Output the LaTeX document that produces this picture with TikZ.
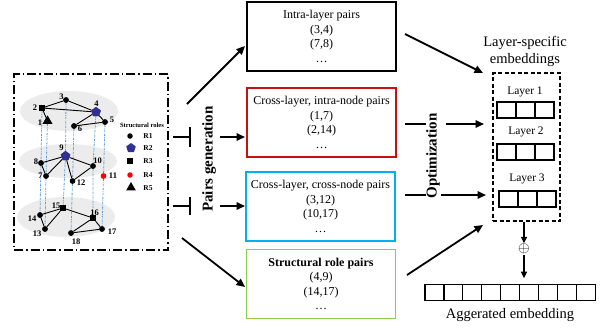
\documentclass[tikz,border=0pt]{standalone}
\usepackage{fontspec}
\setmainfont{Liberation Serif}
\usetikzlibrary{arrows.meta,shapes.geometric}
\definecolor{rbox}{RGB}{200,16,16}
\definecolor{cbox}{RGB}{0,176,240}
\definecolor{gbox}{RGB}{140,204,70}
\definecolor{penta}{RGB}{46,49,146}
\definecolor{vline}{RGB}{91,155,213}
\definecolor{layerfill}{RGB}{236,236,236}
\begin{document}
\begin{tikzpicture}[x=1pt,y=-1pt,
  dotn/.style={circle,fill=black,inner sep=0pt,minimum size=5.5pt},
  reddot/.style={circle,fill=red,inner sep=0pt,minimum size=5.5pt},
  sqn/.style={rectangle,fill=black,inner sep=0pt,minimum size=6pt},
  pentn/.style={regular polygon,regular polygon sides=5,fill=penta,inner sep=0pt,minimum size=10pt},
  trin/.style={regular polygon,regular polygon sides=3,fill=black,inner sep=0pt,minimum size=11pt},
  lbl/.style={font=\fontsize{8.5}{9}\selectfont\bfseries,inner sep=0.5pt},
  lgl/.style={font=\fontsize{7.5}{8}\selectfont\bfseries,inner sep=0.5pt},
  gedge/.style={line width=0.9pt},
  vdot/.style={vline,line width=0.8pt,dash pattern=on 2pt off 1pt on 0.6pt off 1pt},
  arr/.style={line width=1.8pt,-{Triangle[length=8.5pt,width=7.5pt]}},
  arrs/.style={line width=1.5pt,-{Triangle[length=6.5pt,width=6pt]}},
  pairbox/.style={draw,line width=1.3pt,minimum width=149pt,minimum height=69pt,align=center,font=\fontsize{12}{14.5}\selectfont},
  cell/.style={draw,line width=1.2pt,minimum width=19pt,minimum height=16pt,inner sep=0pt},
  bigtxt/.style={font=\fontsize{14.5}{17}\selectfont,align=center,inner sep=0pt},
  rottxt/.style={rotate=90,font=\fontsize{15}{15}\selectfont\bfseries,inner sep=0pt},
]
\useasboundingbox (0,0) rectangle (602,333);

% ---------- left graph box ----------
\node[draw,line width=1.6pt,dash pattern=on 9pt off 3pt on 1.5pt off 3pt,minimum width=154pt,minimum height=176pt,inner sep=0pt] (graphbox) at (91,162) {};

\fill[layerfill] (69,111) ellipse [x radius=49, y radius=20];
\fill[layerfill] (68,161) ellipse [x radius=49, y radius=17];
\fill[layerfill] (66,217) ellipse [x radius=49, y radius=20];

% nodes layer 1
\node[trin] (n1) at (47.5,121) {};
\node[sqn] (n2) at (42,108) {};
\node[dotn] (n3) at (66,100) {};
\node[pentn] (n4) at (96,112) {};
\node[dotn] (n5) at (105,122) {};
\node[dotn] (n6) at (74,126) {};
% layer 2
\node[dotn] (n7) at (46,176) {};
\node[dotn] (n8) at (41,163) {};
\node[pentn] (n9) at (65.5,156) {};
\node[dotn] (n10) at (93,166) {};
\node[reddot] (n11) at (103.5,176) {};
\node[dotn] (n12) at (72.5,181) {};
% layer 3
\node[dotn] (n13) at (45,229) {};
\node[dotn] (n14) at (40,215) {};
\node[sqn] (n15) at (63,208) {};
\node[sqn] (n16) at (93,218) {};
\node[dotn] (n17) at (102,229) {};
\node[dotn] (n18) at (71,233) {};

% vertical dotted lines
\draw[vdot] (n2) -- (n8) -- (n14);
\draw[vdot] (n1) -- (n7) -- (n13);
\draw[vdot] (n3) -- (n9) -- (n15);
\draw[vdot] (n6) -- (n12) -- (n18);
\draw[vdot] (n4) -- (n10) -- (n16);
\draw[vdot] (n5) -- (n11) -- (n17);

% edges
\draw[gedge] (n2) -- (n3) -- (n4) -- (n2) -- (n1);
\draw[gedge] (n4) -- (n5) -- (n6) -- (n4);
\draw[gedge] (n9) -- (n8) -- (n7) -- (n9) -- (n10) -- (n12) -- (n9);
\draw[gedge] (n15) -- (n14) -- (n13) -- (n15) -- (n16) -- (n18) -- (n17) -- (n16);

% redraw nodes on top
\node[trin] at (n1) {};
\node[sqn] at (n2) {};
\node[dotn] at (n3) {};
\node[pentn] at (n4) {};
\node[dotn] at (n5) {};
\node[dotn] at (n6) {};
\node[dotn] at (n7) {};
\node[dotn] at (n8) {};
\node[pentn] at (n9) {};
\node[dotn] at (n10) {};
\node[reddot] at (n11) {};
\node[dotn] at (n12) {};
\node[dotn] at (n13) {};
\node[dotn] at (n14) {};
\node[sqn] at (n15) {};
\node[sqn] at (n16) {};
\node[dotn] at (n17) {};
\node[dotn] at (n18) {};

% node labels
\node[lbl] (t1) at (40,123) {1};
\node[lbl] (t2) at (35,108) {2};
\node[lbl] (t3) at (61.5,97) {3};
\node[lbl] (t4) at (96.5,104) {4};
\node[lbl] (t5) at (112,120) {5};
\node[lbl] (t6) at (80,129) {6};
\node[lbl] (t7) at (40.5,176) {7};
\node[lbl] (t8) at (36,162) {8};
\node[lbl] (t9) at (61.5,148) {9};
\node[lbl] (t10) at (97.5,161) {10};
\node[lbl] (t11) at (113,176) {11};
\node[lbl] (t12) at (81,183) {12};
\node[lbl] (t13) at (37,234) {13};
\node[lbl] (t14) at (32,219) {14};
\node[lbl] (t15) at (56,206) {15};
\node[lbl] (t16) at (94.5,213) {16};
\node[lbl] (t17) at (112,232) {17};
\node[lbl] (t18) at (76,242) {18};

% legend
\node[font=\fontsize{6.5}{7}\selectfont\bfseries,inner sep=0pt] (lgtitle) at (142,125) {Structural roles};
\node[dotn] (lg1) at (130,136) {};
\node[pentn] (lg2) at (131,148) {};
\node[sqn] (lg3) at (130,161) {};
\node[reddot] (lg4) at (130,175) {};
\node[trin] (lg5) at (131,187.5) {};
\node[lgl] (lr1) at (148,136) {R1};
\node[lgl] (lr2) at (148,148) {R2};
\node[lgl] (lr3) at (148,161) {R3};
\node[lgl] (lr4) at (148,175) {R4};
\node[lgl] (lr5) at (148,188) {R5};

% ---------- pair boxes ----------
\node[pairbox,line width=1.5pt] (box1) at (321.5,36.5) {Intra-layer pairs\\(3,4)\\(7,8)\\\ldots};
\node[pairbox,draw=rbox] (box2) at (321.5,122.5) {Cross-layer, intra-node pairs\\(1,7)\\(2,14)\\\ldots};
\node[pairbox,draw=cbox] (box3) at (320.5,206.5) {Cross-layer, cross-node pairs\\(3,12)\\(10,17)\\\ldots};
\node[pairbox,draw=gbox,line width=1.5pt] (box4) at (321,284) {\textbf{Structural role pairs}\\(4,9)\\(14,17)\\\ldots};

% arrows from graph
\coordinate (a1s) at (187,104); \coordinate (a1e) at (245,46);
\coordinate (a2s) at (173,137); \coordinate (a2e) at (245,137);
\coordinate (a3s) at (173,206); \coordinate (a3e) at (245,206);
\coordinate (a4s) at (182,238); \coordinate (a4e) at (245,287);
\draw[arr] (a1s) -- (a1e);
\draw[arr] (a2s) -- (a2e);
\draw[arr] (a3s) -- (a3e);
\draw[arr] (a4s) -- (a4e);
\fill[white] (190.7,108) rectangle (220,222);
\node[rottxt] (pairsgen) at (209,159) {Pairs generation};
\coordinate (tk1a) at (190,127); \coordinate (tk1b) at (190,147);
\coordinate (tk2a) at (190,197); \coordinate (tk2b) at (190,215);
\draw[line width=1.3pt] (tk1a) -- (tk1b);
\draw[line width=1.3pt] (tk2a) -- (tk2b);

% ---------- embeddings ----------
\node[bigtxt] (lstitle) at (525,51.5) {Layer-specific\\embeddings};
\node[draw,line width=1.2pt,dash pattern=on 4pt off 2.5pt,minimum width=67pt,minimum height=148pt,inner sep=0pt] (embbox) at (526.5,147) {};
\node[font=\fontsize{11.5}{12}\selectfont,inner sep=0pt] (ly1) at (525,92) {Layer 1};
\node[font=\fontsize{11.5}{12}\selectfont,inner sep=0pt] (ly2) at (526,132) {Layer 2};
\node[font=\fontsize{11.5}{12}\selectfont,inner sep=0pt] (ly3) at (527,179) {Layer 3};
\foreach \i/\xx in {1/506.5,2/525.5,3/544.5} {
  \node[cell] (l1c\i) at (\xx,110) {};
  \node[cell] (l2c\i) at (\xx,152) {};
  \node[cell] (l3c\i) at (\xx+2,199) {};
}

% arrows into embeddings
\coordinate (b1s) at (405,34); \coordinate (b1e) at (483,73);
\coordinate (b2s) at (405,124); \coordinate (b2e) at (484,124);
\coordinate (b3s) at (405,195); \coordinate (b3e) at (486,195);
\coordinate (b4s) at (407,275); \coordinate (b4e) at (483,225);
\draw[arr] (b1s) -- (b1e);
\draw[arr] (b2s) -- (b2e);
\draw[arr] (b3s) -- (b3e);
\draw[arr] (b4s) -- (b4e);
\fill[white] (425.5,110) rectangle (441,203);
\fill[white] (425.5,110) rectangle (446,140);
\node[rottxt] (optim) at (433,156) {Optimization};

% aggregation
\node[inner sep=0.5pt] (oplus) at (524,249) {\scalebox{1.5}{$\oplus$}};
\draw[arrs] (embbox.south -| oplus) -- (oplus.north);
\foreach \i in {1,...,9} {
  \node[cell,minimum width=18.9pt,minimum height=15.5pt] (ag\i) at ({425+18.9*(\i-0.5)},292.5) {};
}
\draw[arrs,shorten >=6pt] (oplus.south) -- (oplus.south |- ag1.north);
\node[bigtxt] (aggtxt) at (510,315) {Aggerated embedding};
\end{tikzpicture}
\end{document}
